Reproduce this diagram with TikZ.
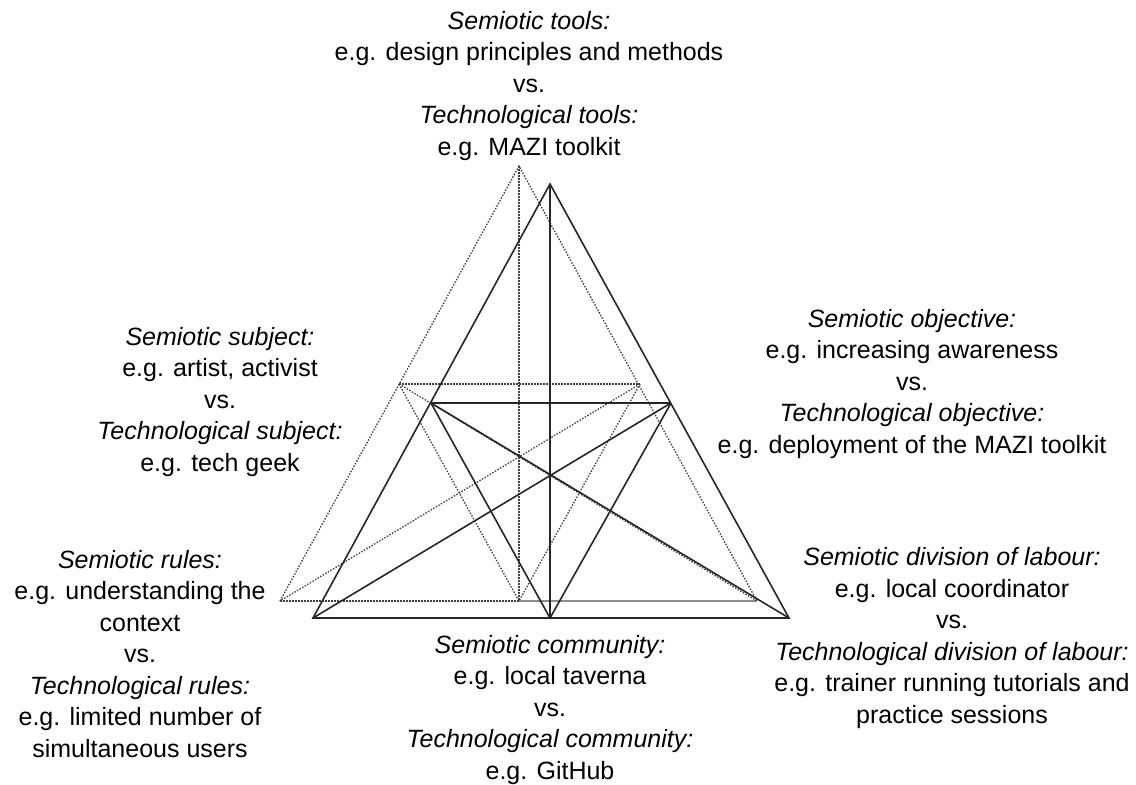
\documentclass[tikz,border=0pt]{standalone}
\usepackage{fontspec}
\setmainfont{Liberation Sans}
\usetikzlibrary{positioning}

\begin{document}
\begin{tikzpicture}[x=1pt, y=-1pt,
    full/.style = {line width=1.6pt, black!85},
    dots/.style = {line width=1.3pt, black!75, dash pattern=on 1.5pt off 1.5pt},
    faint/.style = {line width=1.2pt, black!45},
    txt/.style = {align=center, font=\fontsize{25}{31.5}\selectfont}]
  \useasboundingbox (0,0) rectangle (1136,785);

  % dotted triangle
  \coordinate (dtop) at (519,166);
  \coordinate (dsub) at (399,384);
  \coordinate (dobj) at (640,384);
  \coordinate (drul) at (280,601);
  \coordinate (dcom) at (519,601);
  \coordinate (ddiv) at (757,601);

  % solid triangle
  \coordinate (stop) at (550,184);
  \coordinate (ssub) at (431,403);
  \coordinate (sobj) at (671,403);
  \coordinate (srul) at (313,618);
  \coordinate (scom) at (550,618);
  \coordinate (sdiv) at (789,618);

  \draw [dots] (drul) -- (dtop) -- (ddiv);
  \draw [dots] (drul) -- (dcom);
  \draw [faint] (dcom) -- (ddiv);
  \draw [dots] (dtop) -- (dcom);
  \draw [dots] (dsub) -- (dobj);
  \draw [dots] (dsub) -- (dcom) -- (dobj);
  \draw [dots] (dsub) -- (ddiv);
  \draw [dots] (dobj) -- (drul);

  \draw [full] (srul) -- (stop) -- (sdiv) -- cycle;
  \draw [full] (stop) -- (scom);
  \draw [full] (ssub) -- (sobj);
  \draw [full] (ssub) -- (scom) -- (sobj);
  \draw [full] (ssub) -- (sdiv);
  \draw [full] (sobj) -- (srul);

  \node (tools) [txt] at (529,86) {\textit{Semiotic tools:}\\ e.g. design principles and methods\\ vs.\\ \textit{Technological tools:}\\ e.g. MAZI toolkit};
  \node (subject) [txt] at (220,402) {\textit{Semiotic subject:}\\ e.g. artist, activist\\ vs.\\ \textit{Technological subject:}\\ e.g. tech geek};
  \node (objective) [txt] at (912,384) {\textit{Semiotic objective:}\\ e.g. increasing awareness\\ vs.\\ \textit{Technological objective:}\\ e.g. deployment of the MAZI toolkit};
  \node (rules) [txt] at (140,654) {\textit{Semiotic rules:}\\ e.g. understanding the\\ context\\ vs.\\ \textit{Technological rules:}\\ e.g. limited number of\\ simultaneous users};
  \node (division) [txt] at (952,638) {\textit{Semiotic division of labour:}\\ e.g. local coordinator\\ vs.\\ \textit{Technological division of labour:}\\ e.g. trainer running tutorials and\\ practice sessions};
  \node (community) [txt] at (550,710) {\textit{Semiotic community:}\\ e.g. local taverna\\ vs.\\ \textit{Technological community:}\\ e.g. GitHub};
\end{tikzpicture}
\end{document}
